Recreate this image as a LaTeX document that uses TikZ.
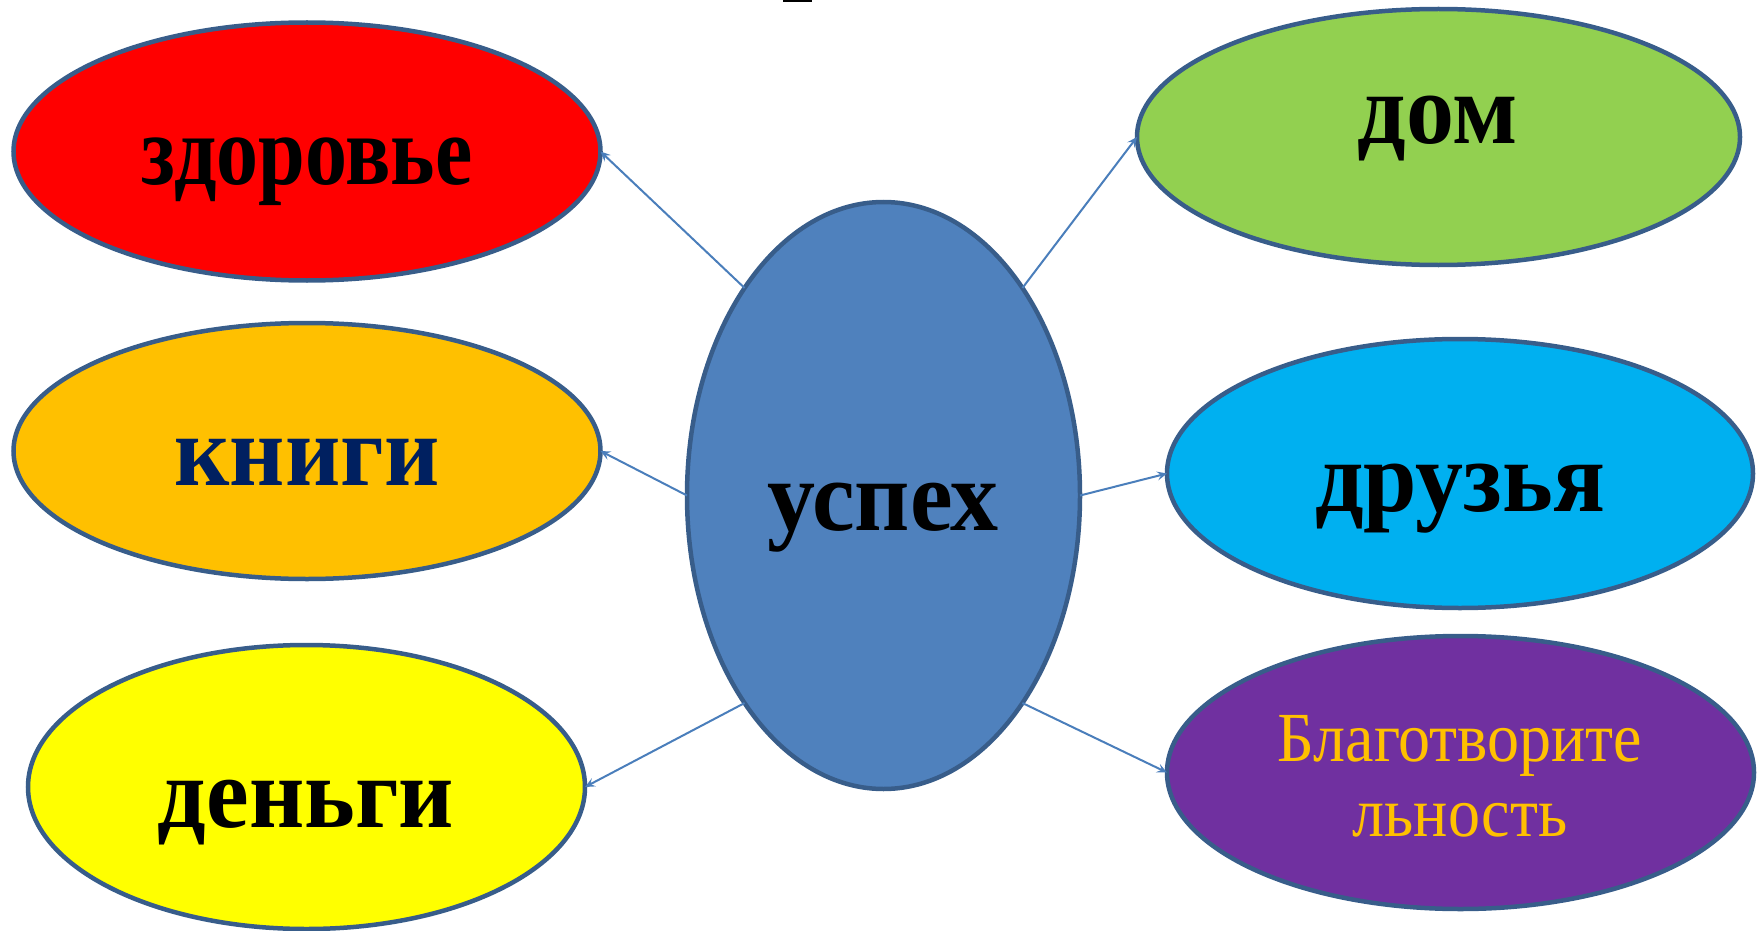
\documentclass[tikz,border=0pt]{standalone}
\usepackage{fontspec}
\setmainfont{Liberation Serif}
\usetikzlibrary{shapes.geometric,arrows.meta}
\definecolor{edgeblue}{HTML}{385D8A}
\definecolor{centerblue}{HTML}{4F81BD}
\definecolor{arrowblue}{HTML}{4A7EBB}
\definecolor{redfill}{HTML}{FF0000}
\definecolor{orangefill}{HTML}{FFC000}
\definecolor{yellowfill}{HTML}{FFFF00}
\definecolor{greenfill}{HTML}{92D050}
\definecolor{cyanfill}{HTML}{00B0F0}
\definecolor{purplefill}{HTML}{7030A0}
\definecolor{navytext}{HTML}{002060}
\definecolor{goldtext}{HTML}{FFC000}
\tikzset{
  blob/.style={ellipse, draw=edgeblue, line width=4.5pt, inner sep=0pt, outer sep=0pt},
  word/.style={anchor=base, inner sep=0pt, font=\fontsize{96}{100}\selectfont\bfseries},
  smallword/.style={anchor=base, inner sep=0pt, font=\fontsize{84}{90}\selectfont\bfseries},
  plainword/.style={anchor=base, inner sep=0pt, text=goldtext, font=\fontsize{64}{75}\selectfont},
  link/.style={draw=arrowblue, line width=2pt, -{Stealth[length=10pt,width=9pt,inset=4pt]}}
}
\begin{document}
\begin{tikzpicture}[x=1pt,y=-1pt]
\useasboundingbox (0,0) rectangle (1762,931);
\fill[black] (783,0) rectangle (812,2.5);
% ellipses
\node[blob, fill=redfill, minimum width=587pt, minimum height=258pt] (zd) at (307,151.5) {};
\node[blob, fill=orangefill, minimum width=587pt, minimum height=256pt] (kn) at (307,451) {};
\node[blob, fill=yellowfill, minimum width=557pt, minimum height=284pt] (dn) at (306.5,787) {};
\node[blob, fill=centerblue, minimum width=393pt, minimum height=587pt] (us) at (883.5,495.5) {};
\node[blob, fill=greenfill, minimum width=603pt, minimum height=256pt] (dm) at (1438.5,137) {};
\node[blob, fill=cyanfill, minimum width=586pt, minimum height=269pt] (dr) at (1460,473.5) {};
\node[blob, fill=purplefill, minimum width=587pt, minimum height=273pt] (bl) at (1460.5,772.5) {};
% texts
\node[smallword] (tzd) at (307,185) {\scalebox{1}[1.18]{здоровье}};
\node[word, text=navytext] (tkn) at (307,485) {\scalebox{1}[1.05]{книги}};
\node[word] (tdn) at (306,827) {\scalebox{1}[1.05]{деньги}};
\node[word] (tus) at (883,530) {\scalebox{1}[1.05]{успех}};
\node[word] (tdm) at (1438,144) {\scalebox{1}[1.05]{дом}};
\node[word] (tdr) at (1460,511) {\scalebox{1}[1.05]{друзья}};
\node[plainword] (tbl1) at (1460,761) {\scalebox{1}[1.1]{Благотворите}};
\node[plainword] (tbl2) at (1460,836) {\scalebox{1}[1.1]{льность}};
% connectors
\draw[link] (us.north west) -- (zd.east);
\draw[link] (us.west) -- (kn.east);
\draw[link] (us.south west) -- (dn.east);
\draw[link] (us.north east) -- (dm.west);
\draw[link] (us.east) -- (dr.west);
\draw[link] (us.south east) -- (bl.west);
\end{tikzpicture}
\end{document}
